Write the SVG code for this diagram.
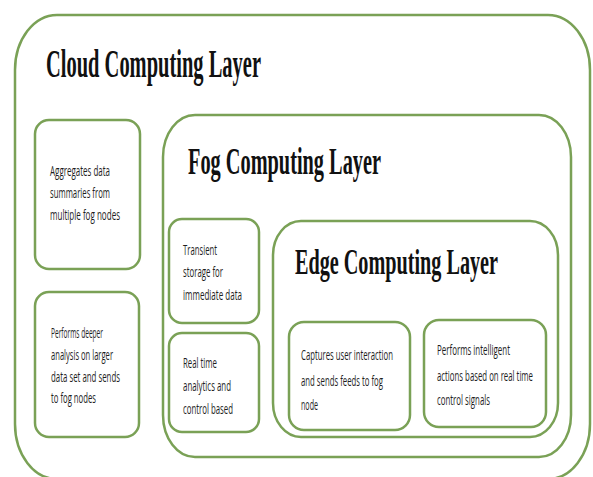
<svg xmlns="http://www.w3.org/2000/svg" width="593" height="477" viewBox="0 0 593 477">
<style>
.box{fill:#ffffff;stroke:#7aa156;stroke-width:2.5}
.title{font-family:"Liberation Serif",serif;font-weight:bold;fill:#111}
.body{font-family:"Open Sans","Liberation Sans",sans-serif;font-size:14px;fill:#1e1e1e}
</style>
<rect width="593" height="477" fill="#ffffff"/>
<g id="cloud">
<rect class="box" x="15" y="15" width="575" height="464" rx="42" ry="55"/>
<text class="title" x="46" y="77" font-size="41" textLength="215" lengthAdjust="spacingAndGlyphs">Cloud Computing Layer</text>
</g>
<g id="cloud-aggregate">
<rect class="box" x="35" y="120" width="105" height="149" rx="14"/>
<text class="body" x="50" y="176" textLength="60" lengthAdjust="spacingAndGlyphs">Aggregates data</text>
<text class="body" x="50" y="198" textLength="60" lengthAdjust="spacingAndGlyphs">summaries from</text>
<text class="body" x="50" y="220" textLength="70" lengthAdjust="spacingAndGlyphs">multiple fog nodes</text>
</g>
<g id="cloud-analysis">
<rect class="box" x="35" y="292" width="104" height="145" rx="14"/>
<text class="body" x="51" y="338" textLength="52" lengthAdjust="spacingAndGlyphs">Performs deeper</text>
<text class="body" x="51" y="360" textLength="62" lengthAdjust="spacingAndGlyphs">analysis on larger</text>
<text class="body" x="51" y="382" textLength="69" lengthAdjust="spacingAndGlyphs">data set and sends</text>
<text class="body" x="51" y="403" textLength="45" lengthAdjust="spacingAndGlyphs">to fog nodes</text>
</g>
<g id="fog">
<rect class="box" x="163" y="115" width="408" height="342" rx="32" ry="42"/>
<text class="title" x="188" y="174" font-size="38" textLength="193" lengthAdjust="spacingAndGlyphs">Fog Computing Layer</text>
</g>
<g id="fog-storage">
<rect class="box" x="169" y="219" width="90" height="104" rx="13"/>
<text class="body" x="183" y="255" textLength="34" lengthAdjust="spacingAndGlyphs">Transient</text>
<text class="body" x="183" y="277" textLength="40" lengthAdjust="spacingAndGlyphs">storage for</text>
<text class="body" x="183" y="300" textLength="59" lengthAdjust="spacingAndGlyphs">immediate data</text>
</g>
<g id="fog-analytics">
<rect class="box" x="169" y="333" width="90" height="99" rx="13"/>
<text class="body" x="183" y="368" textLength="34" lengthAdjust="spacingAndGlyphs">Real time</text>
<text class="body" x="183" y="391" textLength="48" lengthAdjust="spacingAndGlyphs">analytics and</text>
<text class="body" x="183" y="414" textLength="50" lengthAdjust="spacingAndGlyphs">control based</text>
</g>
<g id="edge">
<rect class="box" x="273" y="221" width="285" height="216" rx="28" ry="34"/>
<text class="title" x="295" y="274" font-size="35" textLength="203" lengthAdjust="spacingAndGlyphs">Edge Computing Layer</text>
</g>
<g id="edge-capture">
<rect class="box" x="289" y="322" width="121" height="108" rx="15"/>
<text class="body" x="301" y="360" textLength="92" lengthAdjust="spacingAndGlyphs">Captures user interaction</text>
<text class="body" x="301" y="386" textLength="82" lengthAdjust="spacingAndGlyphs">and sends feeds to fog</text>
<text class="body" x="301" y="410" textLength="17" lengthAdjust="spacingAndGlyphs">node</text>
</g>
<g id="edge-actions">
<rect class="box" x="424" y="320" width="122" height="107" rx="15"/>
<text class="body" x="437" y="355" textLength="73" lengthAdjust="spacingAndGlyphs">Performs intelligent</text>
<text class="body" x="437" y="381" textLength="96" lengthAdjust="spacingAndGlyphs">actions based on real time</text>
<text class="body" x="437" y="405" textLength="53" lengthAdjust="spacingAndGlyphs">control signals</text>
</g>
<g id="connectors"></g>
</svg>
